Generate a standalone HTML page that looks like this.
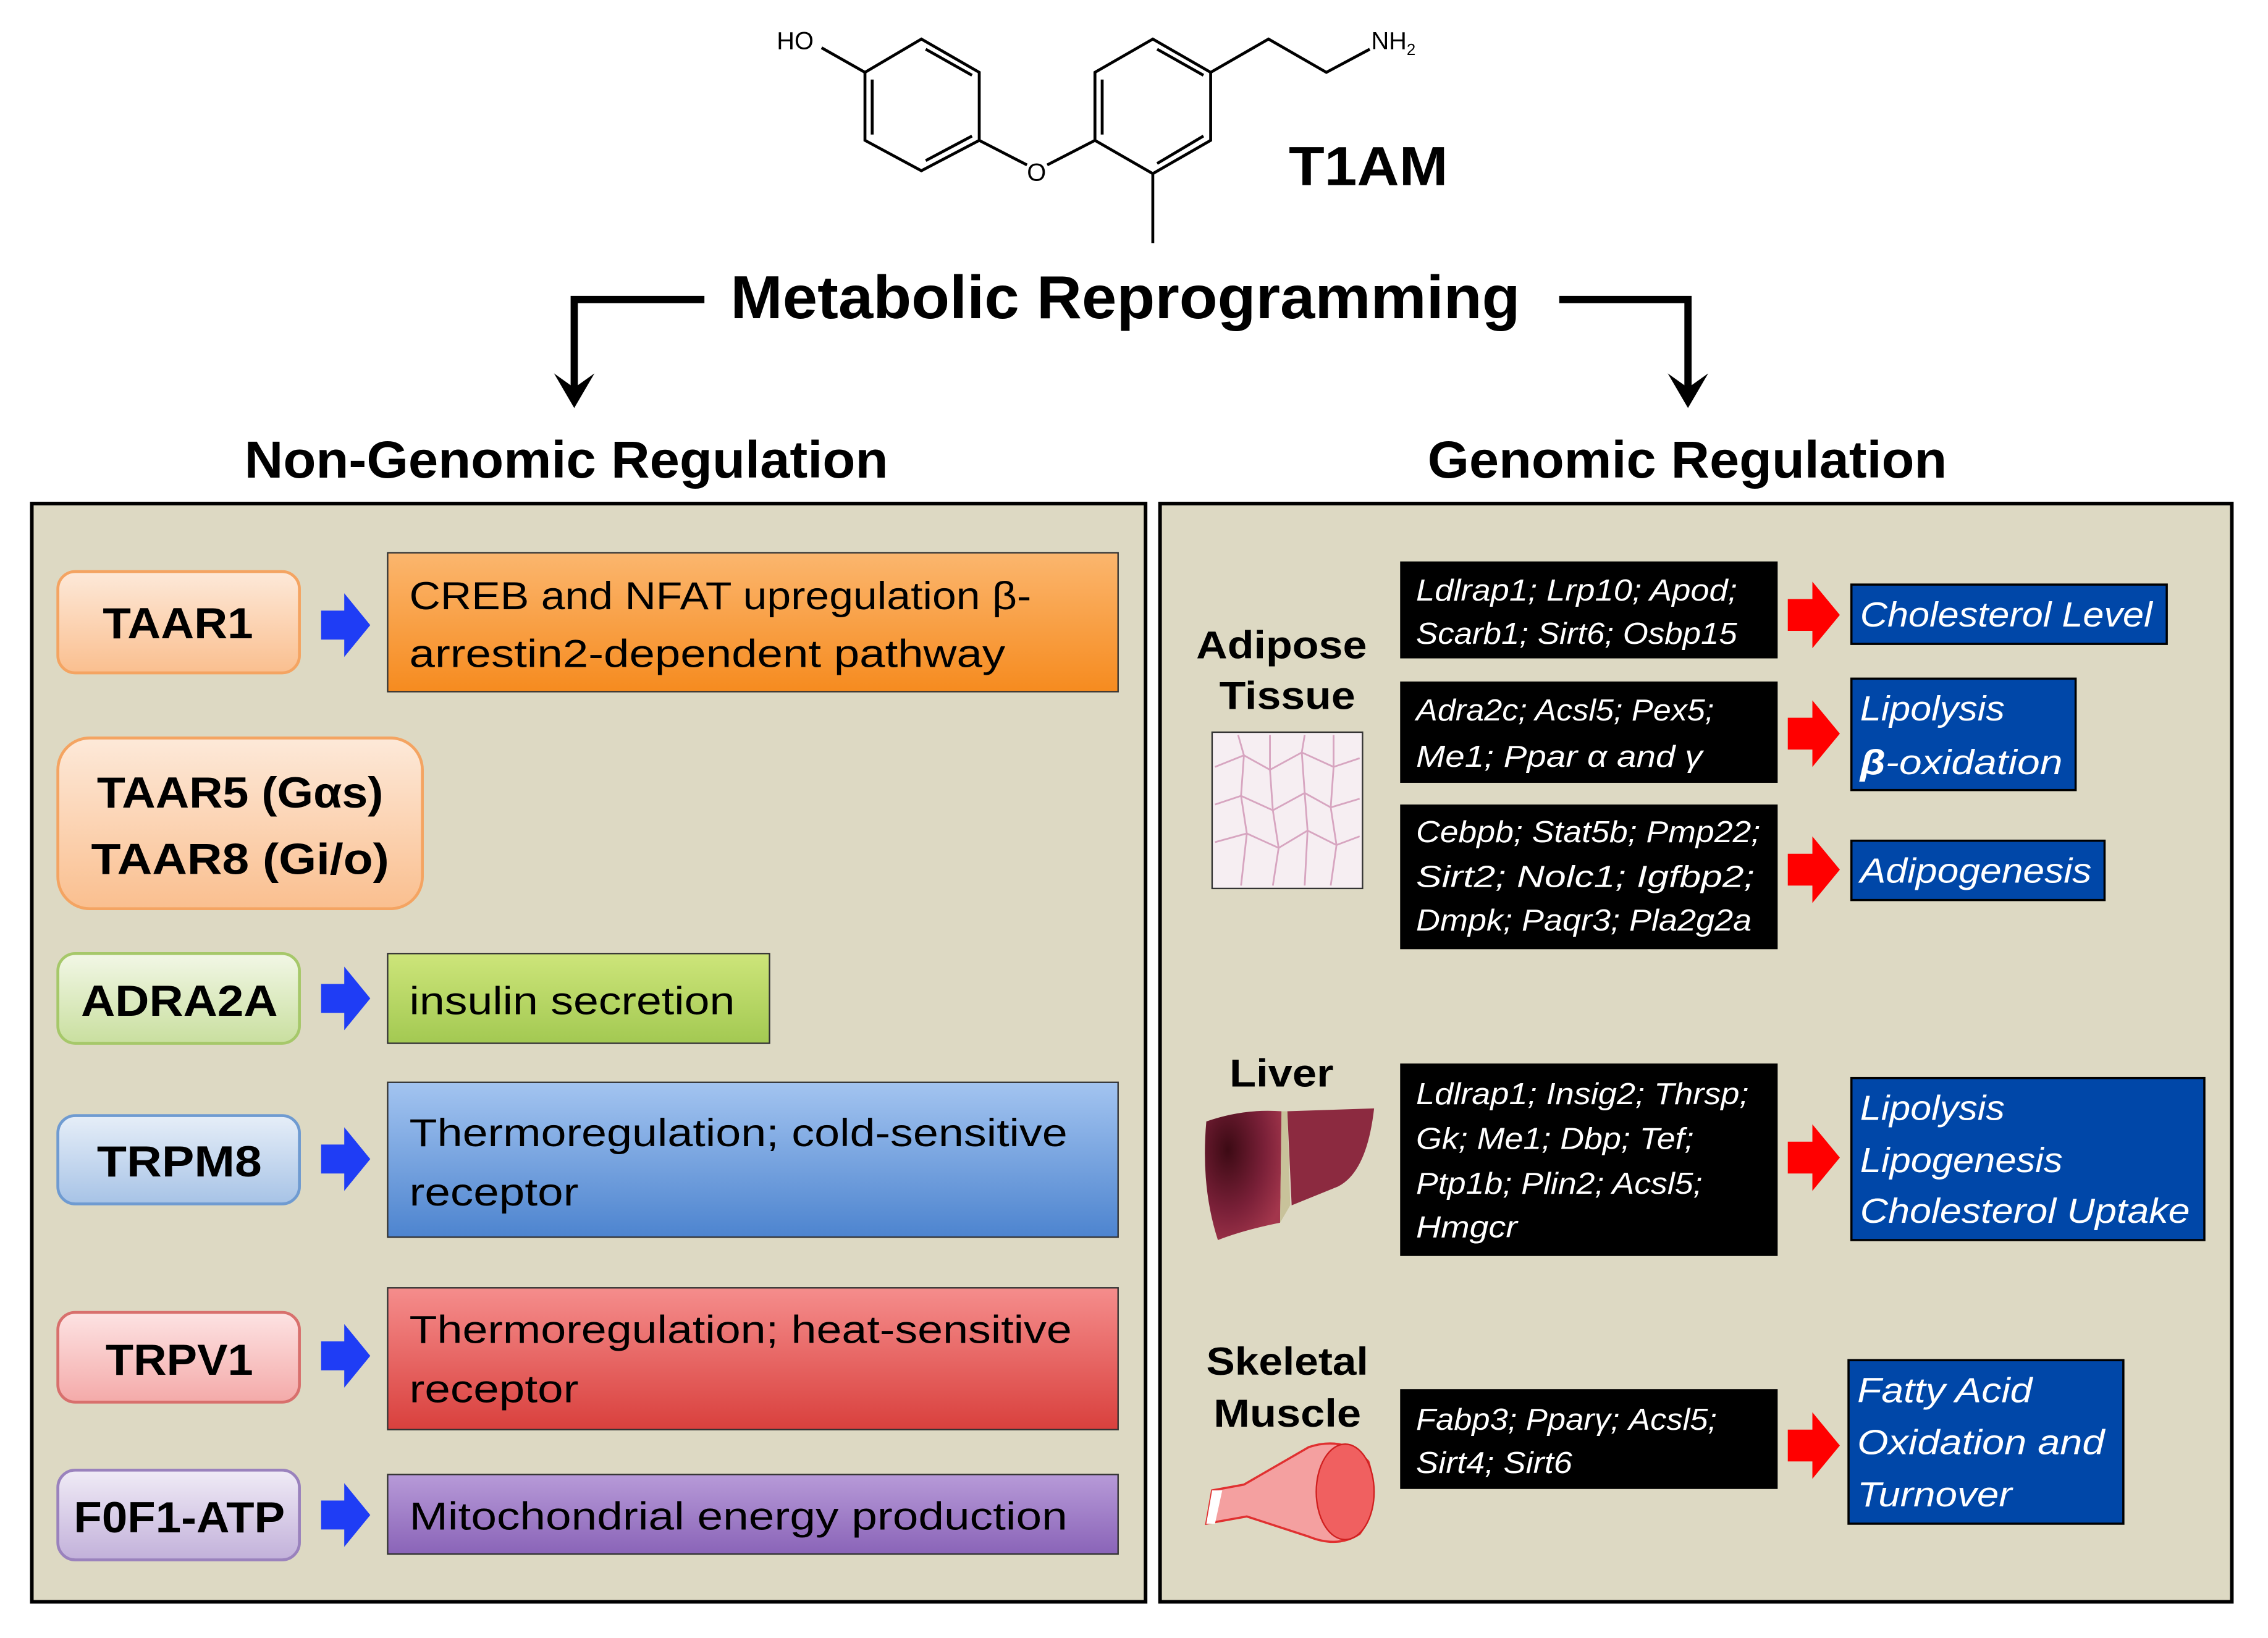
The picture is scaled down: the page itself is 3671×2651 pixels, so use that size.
<!DOCTYPE html>
<html><head><meta charset="utf-8"><style>html,body{margin:0;padding:0;background:#fff}svg{display:block}</style></head>
<body>
<svg width="3671" height="2651" viewBox="0 0 1568 1132" preserveAspectRatio="none" xmlns="http://www.w3.org/2000/svg" font-family="Liberation Sans, sans-serif">
<defs>
<linearGradient id="gPeach" x1="0" y1="0" x2="0" y2="1"><stop offset="0" stop-color="#fde9d9"/><stop offset="1" stop-color="#fabf8f"/></linearGradient>
<linearGradient id="gOrange" x1="0" y1="0" x2="0" y2="1"><stop offset="0" stop-color="#fbb66e"/><stop offset="1" stop-color="#f68b1f"/></linearGradient>
<linearGradient id="gGreenL" x1="0" y1="0" x2="0" y2="1"><stop offset="0" stop-color="#f2f7e6"/><stop offset="1" stop-color="#c9df9f"/></linearGradient>
<linearGradient id="gGreen" x1="0" y1="0" x2="0" y2="1"><stop offset="0" stop-color="#cde57a"/><stop offset="1" stop-color="#a3c952"/></linearGradient>
<linearGradient id="gBlueL" x1="0" y1="0" x2="0" y2="1"><stop offset="0" stop-color="#e6eef8"/><stop offset="1" stop-color="#a7c3e6"/></linearGradient>
<linearGradient id="gBlue" x1="0" y1="0" x2="0" y2="1"><stop offset="0" stop-color="#a3c4f0"/><stop offset="1" stop-color="#4d84cf"/></linearGradient>
<linearGradient id="gPinkL" x1="0" y1="0" x2="0" y2="1"><stop offset="0" stop-color="#fde3e3"/><stop offset="1" stop-color="#f4aaa9"/></linearGradient>
<linearGradient id="gRed" x1="0" y1="0" x2="0" y2="1"><stop offset="0" stop-color="#f58d8c"/><stop offset="1" stop-color="#d9403d"/></linearGradient>
<linearGradient id="gPurL" x1="0" y1="0" x2="0" y2="1"><stop offset="0" stop-color="#f0ebf6"/><stop offset="1" stop-color="#c2b1da"/></linearGradient>
<linearGradient id="gPur" x1="0" y1="0" x2="0" y2="1"><stop offset="0" stop-color="#b79ad8"/><stop offset="1" stop-color="#8a64b8"/></linearGradient>
<radialGradient id="gLiver" cx="0.3" cy="0.3" r="0.8"><stop offset="0" stop-color="#3c0a14"/><stop offset="0.6" stop-color="#7a2038"/><stop offset="1" stop-color="#a3364c"/></radialGradient>
</defs>
<rect width="1568" height="1132" fill="#fff"/>
<!-- molecule -->
<g stroke="#000" stroke-width="2" fill="none">
<polygon points="637,27 598,50 598,97 637,118 677,97 677,50"/>
<line x1="603" y1="55" x2="603" y2="93"/><line x1="640" y1="34" x2="672" y2="52"/><line x1="640" y1="111" x2="672" y2="94"/>
<line x1="568" y1="33" x2="598" y2="50"/>
<line x1="677" y1="97" x2="710" y2="114"/><line x1="724" y1="114" x2="757" y2="97"/>
<polygon points="797,27 757,50 757,97 797,120 837,97 837,50"/>
<line x1="762" y1="55" x2="762" y2="93"/><line x1="800" y1="34" x2="832" y2="52"/><line x1="800" y1="113" x2="832" y2="94"/>
<polyline points="837,50 877,27 917,50 947,34"/>
<line x1="797" y1="120" x2="797" y2="168"/>
</g>
<text x="537" y="34" font-size="17">HO</text>
<text x="710" y="125" font-size="17">O</text>
<text x="948" y="34" font-size="17">NH<tspan font-size="11" dy="4">2</tspan></text>
<text x="891" y="128" font-size="38" font-weight="bold" textLength="110" lengthAdjust="spacingAndGlyphs">T1AM</text>
<!-- header -->
<text x="505" y="220" font-size="42" font-weight="bold" textLength="546" lengthAdjust="spacingAndGlyphs">Metabolic Reprogramming</text>
<g stroke="#000" stroke-width="5" fill="none">
<polyline points="487,207 397,207 397,268"/>
<polyline points="1078,207 1167,207 1167,268"/>
</g>
<polygon points="383,258 397,282 411,258 397,268" fill="#000"/>
<polygon points="1153,258 1167,282 1181,258 1167,268" fill="#000"/>
<text x="169" y="330" font-size="36" font-weight="bold" textLength="445" lengthAdjust="spacingAndGlyphs">Non-Genomic Regulation</text>
<text x="987" y="330" font-size="36" font-weight="bold" textLength="359" lengthAdjust="spacingAndGlyphs">Genomic Regulation</text>
<!-- panels -->
<rect x="22" y="348" width="770" height="759" fill="#ddd9c3" stroke="#000" stroke-width="2.5"/>
<rect x="802" y="348" width="741" height="759" fill="#ddd9c3" stroke="#000" stroke-width="2.5"/>
<!-- left items -->
<g font-weight="bold" font-size="30" text-anchor="middle" fill="#000">
<rect x="40" y="395" width="167" height="70" rx="12" fill="url(#gPeach)" stroke="#f4a462" stroke-width="2"/>
<text x="123" y="441" textLength="104" lengthAdjust="spacingAndGlyphs">TAAR1</text>
<rect x="40" y="510" width="252" height="118" rx="22" fill="url(#gPeach)" stroke="#f4a462" stroke-width="2"/>
<text x="166" y="558" textLength="198" lengthAdjust="spacingAndGlyphs">TAAR5 (Gαs)</text>
<text x="166" y="604" textLength="206" lengthAdjust="spacingAndGlyphs">TAAR8 (Gi/o)</text>
<rect x="40" y="659" width="167" height="62" rx="12" fill="url(#gGreenL)" stroke="#a6c86a" stroke-width="2"/>
<text x="124" y="702" textLength="136" lengthAdjust="spacingAndGlyphs">ADRA2A</text>
<rect x="40" y="771" width="167" height="61" rx="12" fill="url(#gBlueL)" stroke="#6f9bd1" stroke-width="2"/>
<text x="124" y="813" textLength="114" lengthAdjust="spacingAndGlyphs">TRPM8</text>
<rect x="40" y="907" width="167" height="62" rx="12" fill="url(#gPinkL)" stroke="#d8706d" stroke-width="2"/>
<text x="124" y="950" textLength="102" lengthAdjust="spacingAndGlyphs">TRPV1</text>
<rect x="40" y="1016" width="167" height="62" rx="12" fill="url(#gPurL)" stroke="#9a82bd" stroke-width="2"/>
<text x="124" y="1059" textLength="146" lengthAdjust="spacingAndGlyphs">F0F1-ATP</text>
</g>
<!-- blue arrows -->
<g fill="#1f3df5">
<polygon points="222,422 238,422 238,410 256,432 238,454 238,442 222,442"/>
<polygon points="222,680 238,680 238,668 256,690 238,712 238,700 222,700"/>
<polygon points="222,791 238,791 238,779 256,801 238,823 238,811 222,811"/>
<polygon points="222,927 238,927 238,915 256,937 238,959 238,947 222,947"/>
<polygon points="222,1037 238,1037 238,1025 256,1047 238,1069 238,1057 222,1057"/>
</g>
<g font-size="26" fill="#000" stroke="#333" stroke-width="1">
<rect x="268" y="382" width="505" height="96" fill="url(#gOrange)"/>
<rect x="268" y="659" width="264" height="62" fill="url(#gGreen)"/>
<rect x="268" y="748" width="505" height="107" fill="url(#gBlue)"/>
<rect x="268" y="890" width="505" height="98" fill="url(#gRed)"/>
<rect x="268" y="1019" width="505" height="55" fill="url(#gPur)"/>
</g>
<g font-size="27" fill="#000">
<text x="283" y="421" textLength="430" lengthAdjust="spacingAndGlyphs">CREB and NFAT upregulation β-</text>
<text x="283" y="461" textLength="412" lengthAdjust="spacingAndGlyphs">arrestin2-dependent pathway</text>
<text x="283" y="701" textLength="225" lengthAdjust="spacingAndGlyphs">insulin secretion</text>
<text x="283" y="792" textLength="455" lengthAdjust="spacingAndGlyphs">Thermoregulation; cold-sensitive</text>
<text x="283" y="833" textLength="117" lengthAdjust="spacingAndGlyphs">receptor</text>
<text x="283" y="928" textLength="458" lengthAdjust="spacingAndGlyphs">Thermoregulation; heat-sensitive</text>
<text x="283" y="969" textLength="117" lengthAdjust="spacingAndGlyphs">receptor</text>
<text x="283" y="1057" textLength="455" lengthAdjust="spacingAndGlyphs">Mitochondrial energy production</text>
</g>
<!-- right side labels -->
<g font-size="27" font-weight="bold" text-anchor="middle" fill="#000">
<text x="886" y="455" textLength="118" lengthAdjust="spacingAndGlyphs">Adipose</text>
<text x="890" y="490" textLength="94" lengthAdjust="spacingAndGlyphs">Tissue</text>
<text x="886" y="751" textLength="72" lengthAdjust="spacingAndGlyphs">Liver</text>
<text x="890" y="950" textLength="112" lengthAdjust="spacingAndGlyphs">Skeletal</text>
<text x="890" y="986" textLength="102" lengthAdjust="spacingAndGlyphs">Muscle</text>
</g>
<!-- adipose image -->
<rect x="838" y="506" width="104" height="108" fill="#f6eef2" stroke="#333" stroke-width="1"/>
<g stroke="#d7a5c0" stroke-width="1.2" fill="none">
<path d="M840,530 L860,522 L878,532 L900,520 L922,530 L940,524"/>
<path d="M840,556 L858,550 L880,560 L902,548 L920,558 L940,552"/>
<path d="M840,582 L862,576 L884,586 L904,574 L924,584 L940,578"/>
<path d="M856,508 L860,522 L858,550 L862,576 L858,612"/>
<path d="M878,508 L878,532 L880,560 L884,586 L880,612"/>
<path d="M902,508 L900,520 L902,548 L904,574 L902,612"/>
<path d="M922,508 L922,530 L920,558 L924,584 L920,612"/>
</g>
<!-- liver -->
<path d="M834,775 Q860,766 886,768 L885,845 Q860,850 842,857 Q830,820 834,775 Z" fill="url(#gLiver)"/>
<path d="M890,768 L950,766 Q945,810 925,820 L893,833 Z" fill="#8c2a40"/>
<path d="M886,768 L890,768 L892,833 L885,845 Z" fill="#c8c29a"/>
<!-- muscle -->
<path d="M838,1030 L860,1026 L905,1000 Q930,992 946,1010 Q955,1040 940,1060 Q925,1070 905,1062 L862,1048 L834,1053 Z" fill="#f4a0a0" stroke="#e03030" stroke-width="1.5"/>
<ellipse cx="930" cy="1031" rx="20" ry="33" fill="#f06060" stroke="#d02020"/>
<path d="M834,1053 L838,1030 L845,1030 L840,1053 Z" fill="#fff"/>
<!-- black boxes -->
<g fill="#000">
<rect x="968" y="388" width="261" height="67"/>
<rect x="968" y="471" width="261" height="70"/>
<rect x="968" y="556" width="261" height="100"/>
<rect x="968" y="735" width="261" height="133"/>
<rect x="968" y="960" width="261" height="69"/>
</g>
<g fill="#fff" font-size="21" font-style="italic">
<text x="979" y="415" textLength="222" lengthAdjust="spacingAndGlyphs">Ldlrap1; Lrp10; Apod;</text>
<text x="979" y="445" textLength="222" lengthAdjust="spacingAndGlyphs">Scarb1; Sirt6; Osbp15</text>
<text x="979" y="498" textLength="206" lengthAdjust="spacingAndGlyphs">Adra2c; Acsl5; Pex5;</text>
<text x="979" y="530" textLength="198" lengthAdjust="spacingAndGlyphs">Me1; Ppar α and  γ</text>
<text x="979" y="582" textLength="238" lengthAdjust="spacingAndGlyphs">Cebpb; Stat5b; Pmp22;</text>
<text x="979" y="613" textLength="234" lengthAdjust="spacingAndGlyphs">Sirt2; Nolc1; Igfbp2;</text>
<text x="979" y="643" textLength="232" lengthAdjust="spacingAndGlyphs">Dmpk; Paqr3; Pla2g2a</text>
<text x="979" y="763" textLength="230" lengthAdjust="spacingAndGlyphs">Ldlrap1; Insig2; Thrsp;</text>
<text x="979" y="794" textLength="192" lengthAdjust="spacingAndGlyphs">Gk; Me1; Dbp; Tef;</text>
<text x="979" y="825" textLength="198" lengthAdjust="spacingAndGlyphs">Ptp1b; Plin2; Acsl5;</text>
<text x="979" y="855" textLength="70" lengthAdjust="spacingAndGlyphs">Hmgcr</text>
<text x="979" y="988" textLength="208" lengthAdjust="spacingAndGlyphs">Fabp3; Pparγ; Acsl5;</text>
<text x="979" y="1018" textLength="108" lengthAdjust="spacingAndGlyphs">Sirt4; Sirt6</text>
</g>
<!-- red arrows -->
<g fill="#ff0000">
<polygon points="1236,414 1253,414 1253,402 1272,425 1253,448 1253,436 1236,436"/>
<polygon points="1236,496 1253,496 1253,484 1272,507 1253,530 1253,518 1236,518"/>
<polygon points="1236,590 1253,590 1253,578 1272,601 1253,624 1253,612 1236,612"/>
<polygon points="1236,789 1253,789 1253,777 1272,800 1253,823 1253,811 1236,811"/>
<polygon points="1236,988 1253,988 1253,976 1272,999 1253,1022 1253,1010 1236,1010"/>
</g>
<!-- blue result boxes -->
<g fill="#0047a8" stroke="#000" stroke-width="1.5">
<rect x="1280" y="404" width="218" height="41"/>
<rect x="1280" y="469" width="155" height="77"/>
<rect x="1280" y="581" width="175" height="41"/>
<rect x="1280" y="745" width="244" height="112"/>
<rect x="1278" y="940" width="190" height="113"/>
</g>
<g fill="#fff" font-size="24" font-style="italic">
<text x="1286" y="433" textLength="202" lengthAdjust="spacingAndGlyphs">Cholesterol Level</text>
<text x="1286" y="498" textLength="100" lengthAdjust="spacingAndGlyphs">Lipolysis</text>
<text x="1286" y="535" textLength="140" lengthAdjust="spacingAndGlyphs"><tspan font-weight="bold">β</tspan>-oxidation</text>
<text x="1286" y="610" textLength="160" lengthAdjust="spacingAndGlyphs">Adipogenesis</text>
<text x="1286" y="774" textLength="100" lengthAdjust="spacingAndGlyphs">Lipolysis</text>
<text x="1286" y="810" textLength="140" lengthAdjust="spacingAndGlyphs">Lipogenesis</text>
<text x="1286" y="845" textLength="228" lengthAdjust="spacingAndGlyphs">Cholesterol Uptake</text>
<text x="1284" y="969" textLength="121" lengthAdjust="spacingAndGlyphs">Fatty Acid</text>
<text x="1284" y="1005" textLength="171" lengthAdjust="spacingAndGlyphs">Oxidation and</text>
<text x="1284" y="1041" textLength="107" lengthAdjust="spacingAndGlyphs">Turnover</text>
</g>
</svg>
</body></html>
